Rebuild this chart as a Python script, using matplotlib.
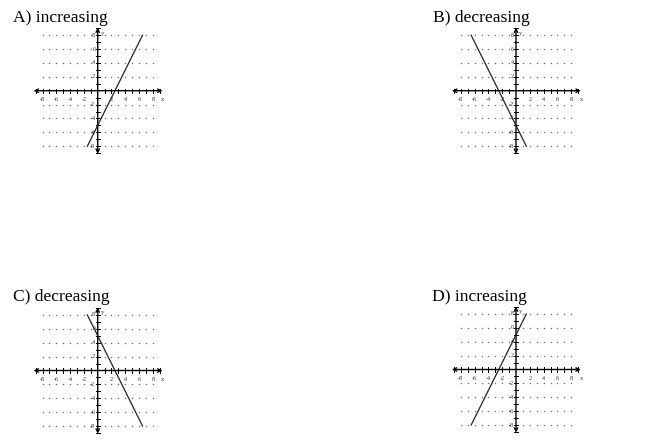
import matplotlib
matplotlib.use("Agg")
import matplotlib.pyplot as plt
import numpy as np

W, H = 650, 448

# ---- data ----
titles = ["A) increasing", "B) decreasing", "C) decreasing", "D) increasing"]
line_x = [[-1.5, 6.5], [-6.5, 1.5], [-1.5, 6.5], [-6.5, 1.5]]
line_y = [[-8, 8], [8, -8], [8, -8], [-8, 8]]
tick_vals = [-8, -6, -4, -2, 2, 4, 6, 8]
tick_labels = ["-8", "-6", "-4", "-2", "2", "4", "6", "8"]

# ---- layout (pixels) ----
origins = [(97.7, 90.7), (516.0, 90.7), (97.7, 370.5), (516.0, 369.5)]
title_pos = [(13, 21.5), (433, 21.5), (13, 301), (432, 300.5)]
unit_x, unit_y = 6.9, 6.94
half = 10.0

fig = plt.figure(figsize=(W / 100, H / 100), dpi=100)
fig.patch.set_facecolor("white")

serif = ["Liberation Serif", "DejaVu Serif"]

for i in range(4):
    ox, oy = origins[i]
    wpx, hpx = 2 * half * unit_x, 2 * half * unit_y
    left = (ox - half * unit_x) / W
    bottom = (H - oy - half * unit_y) / H
    ax = fig.add_axes([left, bottom, wpx / W, hpx / H])
    ax.set_xlim(-half, half)
    ax.set_ylim(-half, half)
    ax.axis("off")

    # grid dots
    xs = [v for v in range(-8, 9) if v != 0]
    ys = [-8, -6, -4, -2, 2, 4, 6, 8]
    gx, gy = np.meshgrid(xs, ys)
    ax.scatter(gx.ravel(), gy.ravel(), s=1.0, color="#666666", linewidths=0, zorder=1)

    # axes with arrows
    ax.annotate("", xy=(9.4, 0), xytext=(-9.3, 0),
                arrowprops=dict(arrowstyle="<->", lw=1.0, color="black",
                                shrinkA=0, shrinkB=0, mutation_scale=6))
    ax.annotate("", xy=(0, 9.1), xytext=(0, -9.1),
                arrowprops=dict(arrowstyle="<->", lw=1.0, color="black",
                                shrinkA=0, shrinkB=0, mutation_scale=6))
    # ticks
    for v in range(-9, 10):
        if v == 0:
            continue
        ax.plot([v, v], [-0.3, 0.3], color="black", lw=0.7, zorder=2)
        ax.plot([-0.3, 0.3], [v, v], color="black", lw=0.7, zorder=2)
    # tick labels
    for v, t in zip(tick_vals, tick_labels):
        ax.text(v, -1.3, t, ha="center", va="center", fontsize=4.4,
                family=serif, color="#333333")
        ax.text(-0.35, v, t, ha="right", va="center", fontsize=4.4,
                family=serif, color="#333333")
    ax.text(9.2, -1.3, "x", ha="left", va="center", fontsize=4.8, family=serif, color="#333333")
    ax.text(0.45, 8.3, "y", ha="left", va="center", fontsize=4.8, family=serif, color="#333333")

    # the line
    ax.plot(line_x[i], line_y[i], color="#222222", lw=0.9, zorder=3)

    tx, ty = title_pos[i]
    fig.text(tx / W, 1 - ty / H, titles[i], ha="left", va="baseline",
             fontsize=12.6, family=serif, color="black")

fig.savefig("out.png", dpi=100, facecolor="white")
